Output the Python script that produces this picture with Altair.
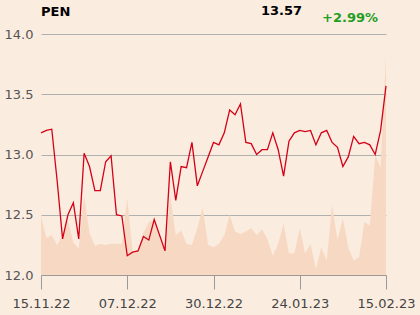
import altair as alt
import pandas as pd

price = [13.18, 13.20, 13.21, 12.78, 12.30, 12.50, 12.60, 12.30, 13.01, 12.90,
         12.70, 12.70, 12.94, 12.99, 12.50, 12.49, 12.16, 12.19, 12.20, 12.32,
         12.29, 12.46, 12.33, 12.20, 12.94, 12.62, 12.90, 12.89, 13.10, 12.74,
         12.86, 12.98, 13.10, 13.08, 13.18, 13.37, 13.33, 13.42, 13.10, 13.09,
         13.00, 13.04, 13.04, 13.18, 13.04, 12.82, 13.11, 13.18, 13.20, 13.19,
         13.20, 13.08, 13.18, 13.20, 13.10, 13.06, 12.90, 12.98, 13.15, 13.09,
         13.10, 13.08, 13.00, 13.20, 13.57]

volume = [12.49, 12.31, 12.33, 12.25, 12.33, 12.45, 12.27, 12.22, 12.66, 12.35,
          12.24, 12.26, 12.25, 12.26, 12.26, 12.26, 12.64, 12.19, 12.20, 12.35,
          12.44, 12.45, 12.30, 12.20, 12.66, 12.33, 12.37, 12.26, 12.25, 12.39,
          12.56, 12.25, 12.23, 12.26, 12.33, 12.50, 12.36, 12.34, 12.36, 12.39,
          12.33, 12.38, 12.30, 12.16, 12.26, 12.43, 12.18, 12.18, 12.39, 12.18,
          12.26, 12.05, 12.23, 12.12, 12.58, 12.29, 12.47, 12.23, 12.12, 12.15,
          12.44, 12.41, 13.00, 12.89, 13.83]

tick_idx = [0, 16, 32, 48, 64]
tick_labels = ["15.11.22", "07.12.22", "30.12.22", "24.01.23", "15.02.23"]

title_name = "PEN"
last_value = "13.57"
change = "+2.99%"

df = pd.DataFrame({"idx": list(range(len(price))), "price": price, "volume": volume})

label_expr = " : ".join(
    f"datum.value == {i} ? '{t}'" for i, t in zip(tick_idx, tick_labels)
) + " : ''"

FONT = "DejaVu Sans"

x = alt.X("idx:Q", scale=alt.Scale(domain=[0, 64], nice=False, zero=False),
          axis=alt.Axis(values=tick_idx, labelExpr=label_expr, title=None, grid=False,
                        domainColor="#9a9a9a", tickColor="#9a9a9a", tickSize=14,
                        labelFont=FONT, labelFontSize=13, labelColor="#444444",
                        labelPadding=8, labelFlush=False))
yscale = alt.Scale(domain=[12, 14], nice=False, zero=False)

area = alt.Chart(df).mark_area(color="#f7d9c3", opacity=1).encode(
    x=x,
    y=alt.Y("volume:Q", scale=yscale,
            axis=alt.Axis(values=[12.0, 12.5, 13.0, 13.5, 14.0], format=".1f", title=None,
                          domain=False, ticks=False, gridColor="#b0b0b0", gridWidth=1,
                          labelFont=FONT, labelFontSize=13, labelColor="#555555",
                          labelPadding=8)),
    y2=alt.datum(12),
)

line = alt.Chart(df).mark_line(color="#d40016", strokeWidth=1.3).encode(
    x="idx:Q",
    y=alt.Y("price:Q", scale=yscale),
)

def label(txt, xpos, ypos, color, align):
    return alt.Chart(pd.DataFrame({"t": [txt]})).mark_text(
        font=FONT, fontSize=13, fontWeight="bold", color=color,
        align=align, baseline="alphabetic").encode(
        x=alt.value(xpos), y=alt.value(ypos), text="t:N")

t1 = label(title_name, 0, -18, "#000000", "left")
t2 = label(last_value, 261, -19, "#000000", "right")
t3 = label(change, 281, -12, "#1f9e1f", "left")

chart = alt.layer(area, line, t1, t2, t3).properties(
    width=345, height=241,
    autosize=alt.AutoSizeParams(type="none"),
    padding={"left": 41, "top": 34, "right": 34, "bottom": 40},
    background="#fbece0",
).configure_view(stroke=None)

chart.save("out.html", embed_options={"renderer": "svg", "actions": False})
